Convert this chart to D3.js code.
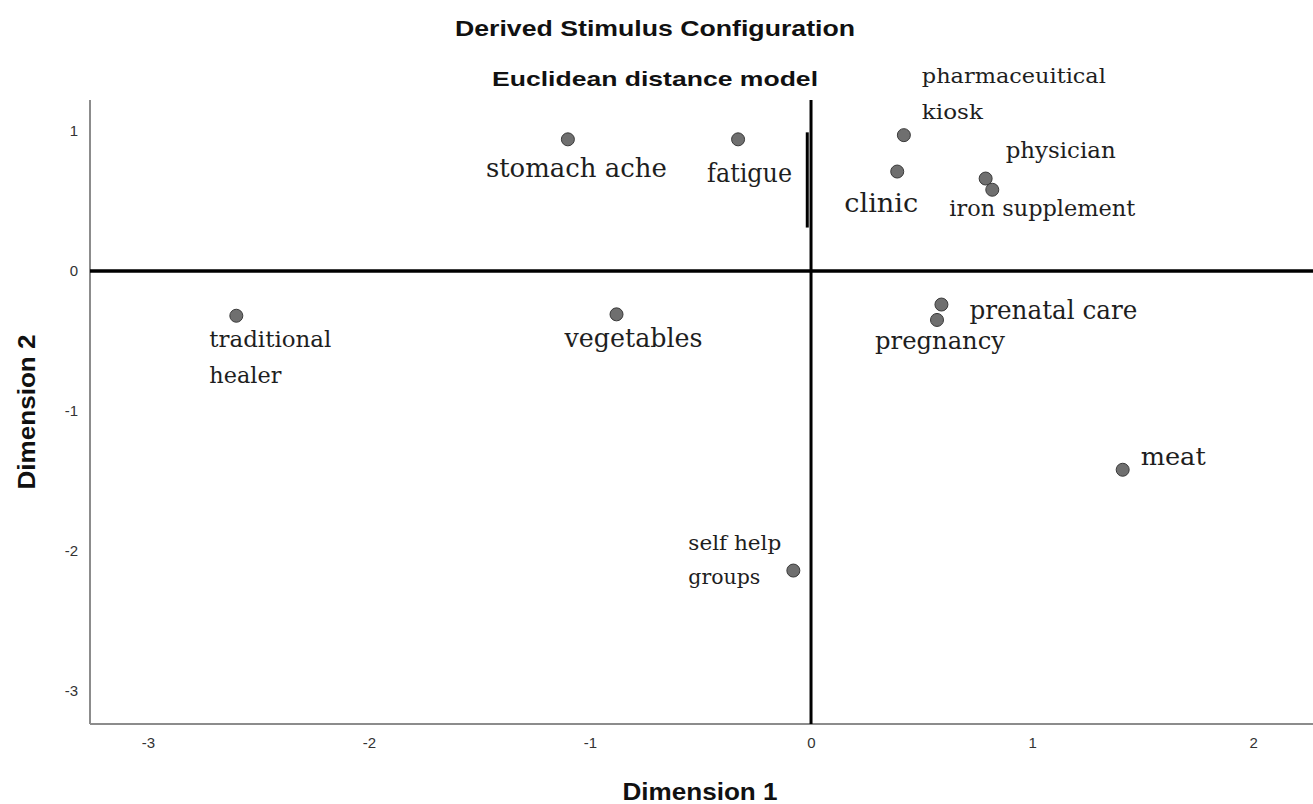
<!DOCTYPE html>
<html>
<head>
<meta charset="utf-8">
<script src="https://cdnjs.cloudflare.com/ajax/libs/d3/7.8.5/d3.min.js"></script>
<style>
  body { margin: 0; background: #fff; }
  svg { display: block; }
</style>
</head>
<body>
<div id="svg"></div>
<script>
var width = 1313;
var height = 804;

// data
var stimuli = ['stomach ache', 'fatigue', 'pharmaceuitical kiosk', 'clinic', 'physician',
	'iron supplement', 'traditional healer', 'vegetables', 'prenatal care', 'pregnancy',
	'meat', 'self help groups'];
var dim1 = [-1.10, -0.33, 0.42, 0.39, 0.79, 0.82, -2.60, -0.88, 0.59, 0.57, 1.41, -0.08];
var dim2 = [0.94, 0.94, 0.97, 0.71, 0.66, 0.58, -0.32, -0.31, -0.24, -0.35, -1.42, -2.14];
var x_ticks = [-3, -2, -1, 0, 1, 2];
var y_ticks = [1, 0, -1, -2, -3];

// label placement, relative to the dot (px): lines, dx, dy of first baseline, line gap, size, width
var label_layout = {
	'stomach ache': { lines: ['stomach ache'], dx: -82, dy: 38, gap: 0, size: 26, w: [181] },
	'fatigue': { lines: ['fatigue'], dx: -31, dy: 43, gap: 0, size: 26, w: [85] },
	'pharmaceuitical kiosk': { lines: ['pharmaceuitical', 'kiosk'], dx: 18, dy: -52, gap: 36, size: 21, w: [184, 61] },
	'clinic': { lines: ['clinic'], dx: -53, dy: 40, gap: 0, size: 26, w: [74] },
	'physician': { lines: ['physician'], dx: 20, dy: -21, gap: 0, size: 22, w: [110] },
	'iron supplement': { lines: ['iron supplement'], dx: -43, dy: 26, gap: 0, size: 22, w: [186] },
	'traditional healer': { lines: ['traditional', 'healer'], dx: -27, dy: 31, gap: 36, size: 22, w: [122, 72] },
	'vegetables': { lines: ['vegetables'], dx: -52, dy: 33, gap: 0, size: 26, w: [138] },
	'prenatal care': { lines: ['prenatal care'], dx: 28, dy: 14, gap: 0, size: 26, w: [168] },
	'pregnancy': { lines: ['pregnancy'], dx: -62, dy: 29, gap: 0, size: 24, w: [130] },
	'meat': { lines: ['meat'], dx: 18, dy: -5, gap: 0, size: 24, w: [65] },
	'self help groups': { lines: ['self help', 'groups'], dx: -105, dy: -21, gap: 34, size: 21, w: [93, 72] }
};

var plot = { left: 90, right: 1313, top: 100, bottom: 724 };
var serif = "'DejaVu Serif', 'Liberation Serif', serif";
var sans = "'Liberation Sans', Arial, sans-serif";

var canvas = d3.select('#svg')
	.append('svg')
	.attr('width', width)
	.attr('height', height);

function add_title(x, y, txt, size, len, rotate)
{ // bold sans title, stretched to the measured width
	var t = canvas.append('text')
		.attr('text-anchor', 'middle')
		.attr('textLength', len)
		.attr('lengthAdjust', 'spacingAndGlyphs')
		.style('font-family', sans).style('font-weight', 'bold').style('font-size', size + 'px')
		.attr('fill', '#111')
		.text(txt);
	if (rotate)
		t.attr('transform', 'translate(' + x + ',' + y + ') rotate(-90)');
	else
		t.attr('x', x).attr('y', y);
	return t;
}

function main()
{
	var x = d3.scaleLinear().domain([-3.262, 2.271]).range([plot.left, plot.right]);
	var y = d3.scaleLinear().domain([1.221, -3.236]).range([plot.top, plot.bottom]);

	add_title(655, 36, 'Derived Stimulus Configuration', 22, 400);
	add_title(655, 86, 'Euclidean distance model', 21, 326);

	// axes (no tick marks, grey domain lines)
	var fmt = function(d) { return String(d); };
	var x_axis = canvas.append('g')
		.attr('transform', 'translate(0,' + plot.bottom + ')')
		.call(d3.axisBottom(x).tickValues(x_ticks).tickSize(0).tickPadding(13).tickFormat(fmt));
	var y_axis = canvas.append('g')
		.attr('transform', 'translate(' + plot.left + ',0)')
		.call(d3.axisLeft(y).tickValues(y_ticks).tickSize(0).tickPadding(12).tickFormat(fmt));
	[x_axis, y_axis].forEach(function(a) {
		a.select('.domain').attr('stroke', '#8c8c8c').attr('stroke-width', 2);
		a.selectAll('text').style('font-family', sans).style('font-size', '15px').attr('fill', '#333');
	});
	// full-length domain lines
	x_axis.select('.domain').attr('d', 'M' + plot.left + ',0H' + plot.right);
	y_axis.select('.domain').attr('d', 'M0,' + plot.top + 'V' + plot.bottom);

	add_title(700, 800, 'Dimension 1', 23, 155);
	add_title(35, 412, 'Dimension 2', 23, 155, true);

	// zero reference lines
	canvas.append('line')
		.attr('x1', plot.left).attr('x2', plot.right)
		.attr('y1', y(0)).attr('y2', y(0))
		.attr('stroke', '#000').attr('stroke-width', 3.5);
	canvas.append('line')
		.attr('x1', x(0)).attr('x2', x(0))
		.attr('y1', plot.top).attr('y2', plot.bottom)
		.attr('stroke', '#000').attr('stroke-width', 3);
	// hand-drawn overstroke beside the vertical line
	canvas.append('line')
		.attr('x1', x(-0.017)).attr('x2', x(-0.017))
		.attr('y1', y(0.99)).attr('y2', y(0.31))
		.attr('stroke', '#000').attr('stroke-width', 3);

	var data = stimuli.map(function(s, i) { return { name: s, d1: dim1[i], d2: dim2[i] }; });

	var pts = canvas.append('g').selectAll('g.stim')
		.data(data)
		.enter().append('g')
			.attr('class', 'stim')
			.attr('transform', function(d) { return 'translate(' + x(d.d1) + ',' + y(d.d2) + ')'; });

	pts.append('circle')
		.attr('r', 6.5)
		.attr('fill', '#6f6f6f')
		.attr('stroke', '#3a3a3a')
		.attr('stroke-width', 1);

	pts.each(function(d) {
		var lay = label_layout[d.name];
		var g = d3.select(this);
		lay.lines.forEach(function(line, k) {
			g.append('text')
				.attr('x', lay.dx)
				.attr('y', lay.dy + k * lay.gap)
				.attr('textLength', lay.w[k])
				.attr('lengthAdjust', 'spacingAndGlyphs')
				.style('font-family', serif)
				.style('font-size', lay.size + 'px')
				.attr('fill', '#1e1e1e')
				.text(line);
		});
	});
}

main();
</script>
</body>
</html>
